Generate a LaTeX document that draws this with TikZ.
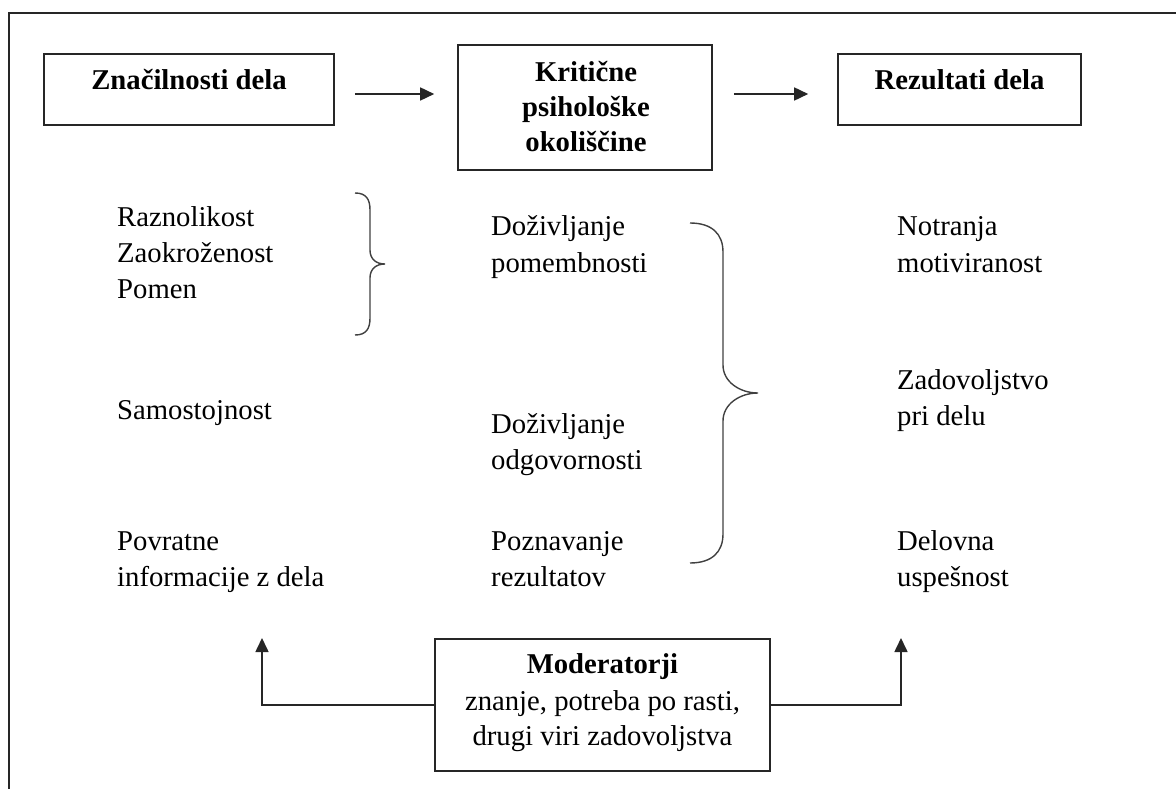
\documentclass[tikz,border=0pt]{standalone}
\usepackage{fontspec}
\setmainfont{Liberation Serif}
\usetikzlibrary{arrows.meta}
\begin{document}
\begin{tikzpicture}[x=1pt,y=-1pt,
  every node/.style={inner sep=0pt, font=\fontsize{28.7}{36}\selectfont},
  box/.style={draw=black!85, line width=1.6pt, rectangle},
  txt/.style={anchor=base west},
  ttl/.style={anchor=base, font=\fontsize{28.7}{35}\selectfont\bfseries, align=center},
  line/.style={draw=black!85, line width=1.6pt},
  arr/.style={line, -{Triangle[length=14pt,width=13pt]}},
  brace/.style={draw=black!75, line width=1.4pt}
]
\useasboundingbox (0,0) rectangle (1176,789);
% outer frame (top and left only)
\draw[line] (9,789) -- (9,13) -- (1176,13);

% top boxes
\node[box, minimum width=290pt, minimum height=71pt] (b1) at (189,89.5) {};
\node[ttl] (t1) at (189,90) {Značilnosti dela};
\node[box, minimum width=254pt, minimum height=125pt] (b2) at (585,107.5) {};
\node[ttl] (t2a) at (586,82) {Kritične};
\node[ttl] (t2b) at (586,117) {psihološke};
\node[ttl] (t2c) at (586,152) {okoliščine};
\node[box, minimum width=243pt, minimum height=71pt] (b3) at (959.5,89.5) {};
\node[ttl] (t3) at (959.5,90) {Rezultati dela};

\draw[arr] ([xshift=20pt]b1.east |- 0,94) -- ([xshift=-23pt]b2.west |- 0,94);
\draw[arr] ([xshift=21pt]b2.east |- 0,94) -- ([xshift=-29pt]b3.west |- 0,94);

% left column
\node[txt] (l1) at (117,226) {Raznolikost};
\node[txt] (l2) at (117,262) {Zaokroženost};
\node[txt] (l3) at (117,298) {Pomen};
\node[txt] (l4) at (117,419) {Samostojnost};
\node[txt] (l5) at (117,550) {Povratne};
\node[txt] (l6) at (117,586) {informacije z dela};

% middle column
\node[txt] (m1) at (491,236) {Doživljanje};
\node[txt] (m2) at (491,272) {pomembnosti};
\node[txt] (m3) at (491,433) {Doživljanje};
\node[txt] (m4) at (491,469) {odgovornosti};
\node[txt] (m5) at (491,550) {Poznavanje};
\node[txt] (m6) at (491,586) {rezultatov};

% right column
\node[txt] (r1) at (897,236) {Notranja};
\node[txt] (r2) at (897,272) {motiviranost};
\node[txt] (r3) at (897,389) {Zadovoljstvo};
\node[txt] (r4) at (897,425) {pri delu};
\node[txt] (r5) at (897,550) {Delovna};
\node[txt] (r6) at (897,586) {uspešnost};

% braces
\draw[brace] (355,193) .. controls (366,193) and (370,199) .. (370,210)
  -- (370,250) .. controls (370,259) and (376,264) .. (385,264)
  .. controls (376,264) and (370,269) .. (370,278)
  -- (370,318) .. controls (370,329) and (366,335) .. (355,335);
\draw[brace] (690,223) .. controls (712,223) and (723,234) .. (723,252)
  -- (723,365) .. controls (723,382) and (740,393) .. (758,393)
  .. controls (740,393) and (723,404) .. (723,421)
  -- (723,534) .. controls (723,552) and (712,563) .. (690,563);

% moderators
\node[box, minimum width=335pt, minimum height=132pt] (mod) at (602.5,705) {};
\node[ttl] (mt) at (602.5,673) {Moderatorji};
\node[anchor=base] (m2a) at (602.5,710) {znanje, potreba po rasti,};
\node[anchor=base] (m2b) at (602.5,745) {drugi viri zadovoljstva};
\coordinate (lt) at (262,638);
\coordinate (rt) at (901,638);
\draw[arr] (mod.west) -| (lt);
\draw[arr] (mod.east) -| (rt);
\end{tikzpicture}
\end{document}
